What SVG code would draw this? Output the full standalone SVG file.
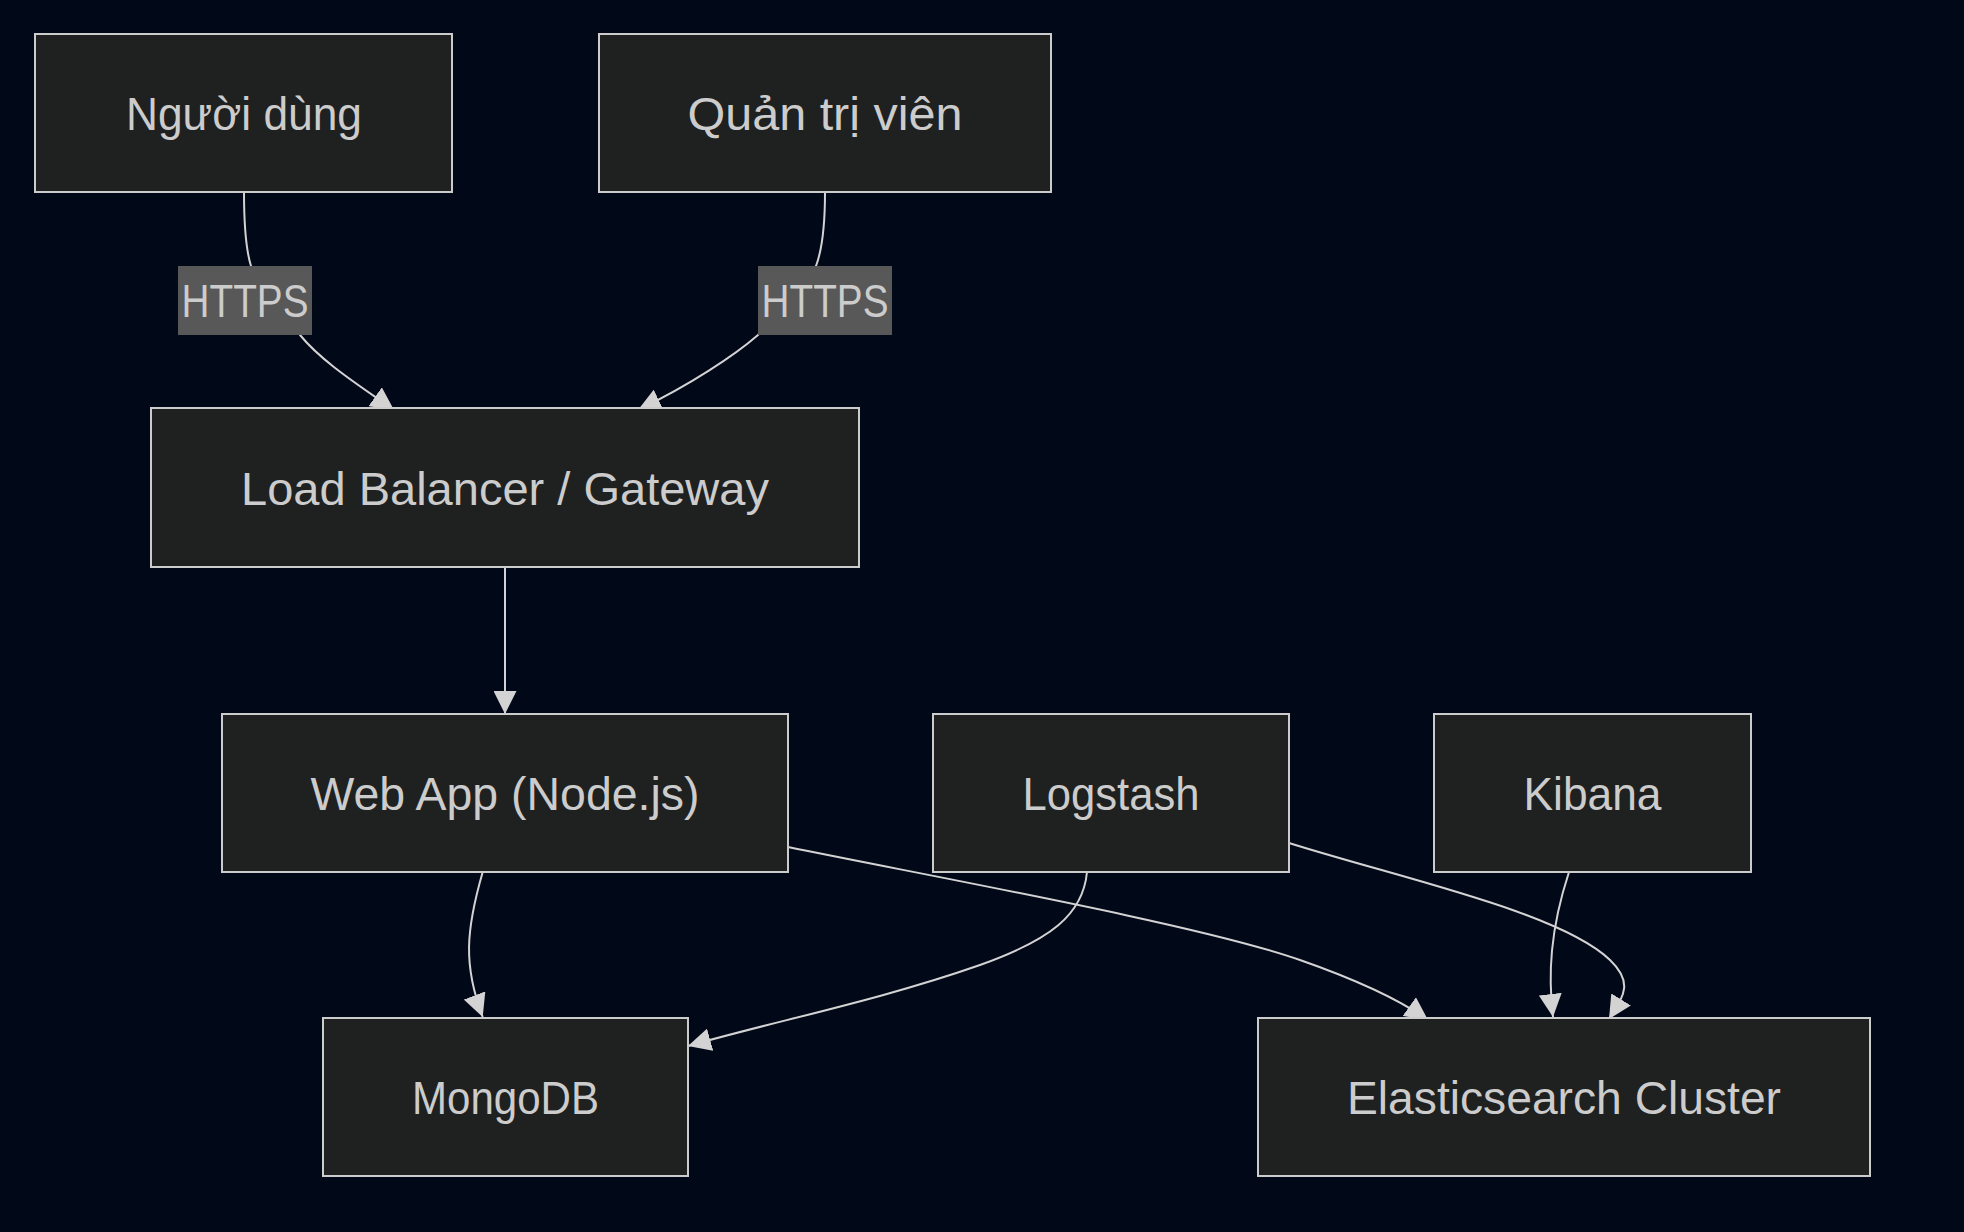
<svg xmlns="http://www.w3.org/2000/svg" width="1964" height="1232" viewBox="0 0 1964 1232">
<style>
.node rect{fill:#1f2020;stroke:#cccccc;stroke-width:2}
.node text,.elabel text{font-family:"Liberation Sans",Arial,sans-serif;font-size:46px;fill:#cccccc;text-anchor:middle}
.edge{fill:none;stroke:#d3d3d3;stroke-width:2}
.elabel rect{fill:#585858}
</style>
<defs>
<marker id="arrow" markerUnits="userSpaceOnUse" viewBox="0 0 10 10" refX="10" refY="5" markerWidth="23" markerHeight="23" orient="auto">
<path d="M0,0 L10,5 L0,10 z" fill="#d3d3d3"/>
</marker>
</defs>
<rect x="0" y="0" width="1964" height="1232" fill="#010818"/>
<g id="connectors">
<path class="edge" d="M244,192 C244,230 246,250 251,266 L300,335 C322,362 360,386 394,410" marker-end="url(#arrow)"/>
<path class="edge" d="M825,192 C825,230 822,250 816,266 L758,335 C735,355 690,385 638,410" marker-end="url(#arrow)"/>
<path class="edge" d="M505,567 L505,714" marker-end="url(#arrow)"/>
<path class="edge" d="M482.7,872 C466,930 463,965 482.7,1017" marker-end="url(#arrow)"/>
<path class="edge" d="M1087,872 C1083,915 1050,940 980,965 C880,1000 780,1020 688,1046" marker-end="url(#arrow)"/>
<path class="edge" d="M788,847 C950,880 1200,925 1300,960 C1360,981 1400,1000 1428,1020" marker-end="url(#arrow)"/>
<path class="edge" d="M1289,843 C1400,878 1560,912 1610,960 C1635,984 1622,998 1609,1019" marker-end="url(#arrow)"/>
<path class="edge" d="M1569,872 C1550,930 1548,975 1553,1017" marker-end="url(#arrow)"/>
</g>
<g id="edge-labels">
<g class="elabel" id="label-https-1"><rect x="178" y="266" width="134" height="69"/><text x="245" y="317" textLength="127" lengthAdjust="spacingAndGlyphs">HTTPS</text></g>
<g class="elabel" id="label-https-2"><rect x="758" y="266" width="134" height="69"/><text x="825" y="317" textLength="127" lengthAdjust="spacingAndGlyphs">HTTPS</text></g>
</g>
<g class="node" id="nguoi-dung"><rect x="35" y="34" width="417" height="158"/><text x="244" y="130" textLength="236" lengthAdjust="spacingAndGlyphs">Người dùng</text></g>
<g class="node" id="quan-tri-vien"><rect x="599" y="34" width="452" height="158"/><text x="825" y="130" textLength="275" lengthAdjust="spacingAndGlyphs">Quản trị viên</text></g>
<g class="node" id="load-balancer"><rect x="151" y="408" width="708" height="159"/><text x="505" y="505" textLength="528" lengthAdjust="spacingAndGlyphs">Load Balancer / Gateway</text></g>
<g class="node" id="web-app"><rect x="222" y="714" width="566" height="158"/><text x="505" y="810" textLength="389" lengthAdjust="spacingAndGlyphs">Web App (Node.js)</text></g>
<g class="node" id="logstash"><rect x="933" y="714" width="356" height="158"/><text x="1111" y="810" textLength="177" lengthAdjust="spacingAndGlyphs">Logstash</text></g>
<g class="node" id="kibana"><rect x="1434" y="714" width="317" height="158"/><text x="1592.5" y="810" textLength="138" lengthAdjust="spacingAndGlyphs">Kibana</text></g>
<g class="node" id="mongodb"><rect x="323" y="1018" width="365" height="158"/><text x="505.5" y="1114" textLength="187" lengthAdjust="spacingAndGlyphs">MongoDB</text></g>
<g class="node" id="elasticsearch"><rect x="1258" y="1018" width="612" height="158"/><text x="1564" y="1114" textLength="434" lengthAdjust="spacingAndGlyphs">Elasticsearch Cluster</text></g>
</svg>
